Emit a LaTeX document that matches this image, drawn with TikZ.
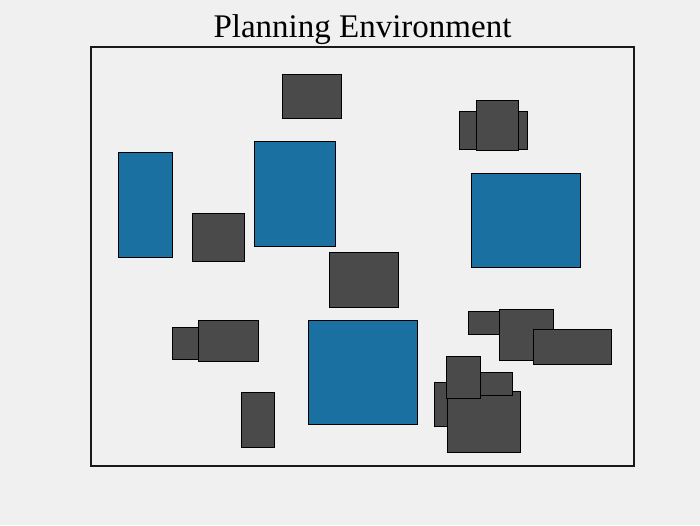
\documentclass[tikz,border=0pt]{standalone}
\usepackage{fontspec}
\setmainfont{Liberation Serif}
\definecolor{bg}{RGB}{240,240,240}
\definecolor{obsgray}{RGB}{74,74,74}
\definecolor{goalblue}{RGB}{26,112,160}
\begin{document}
\begin{tikzpicture}[x=1pt,y=-1pt,
  obst/.style={fill=obsgray,draw=black,line width=0.9pt},
  region/.style={fill=goalblue,draw=black,line width=0.9pt},
  frame/.style={draw=black!90,line width=1.4pt}]
\fill[bg] (0,0) rectangle (700,525);
\useasboundingbox (0,0) rectangle (700,525);
\node[anchor=base,font=\fontsize{33}{38}\selectfont,inner sep=0pt] (title) at (362.5,37) {Planning Environment};
\draw[frame] (91,47) rectangle (634,466);
% blue regions
\draw[region] (118,152) rectangle (172,257);
\draw[region] (254,141) rectangle (335,246);
\draw[region] (471,173) rectangle (580,267);
\draw[region] (308,320) rectangle (417,424);
% obstacles
\draw[obst] (282,74) rectangle (341,118);
\draw[obst] (459,111) rectangle (527,149);
\draw[obst] (476,100) rectangle (518,150);
\draw[obst] (192,213) rectangle (244,261);
\draw[obst] (329,252) rectangle (398,307);
\draw[obst] (172,327) rectangle (200,359);
\draw[obst] (198,320) rectangle (258,361);
\draw[obst] (241,392) rectangle (274,447);
\draw[obst] (468,311) rectangle (499,334);
\draw[obst] (499,309) rectangle (553,360);
\draw[obst] (533,329) rectangle (611,364);
\draw[obst] (434,382) rectangle (480,426);
\draw[obst] (447,391) rectangle (520,452);
\draw[obst] (460,372) rectangle (512,395);
\draw[obst] (446,356) rectangle (480,398);
\end{tikzpicture}
\end{document}
